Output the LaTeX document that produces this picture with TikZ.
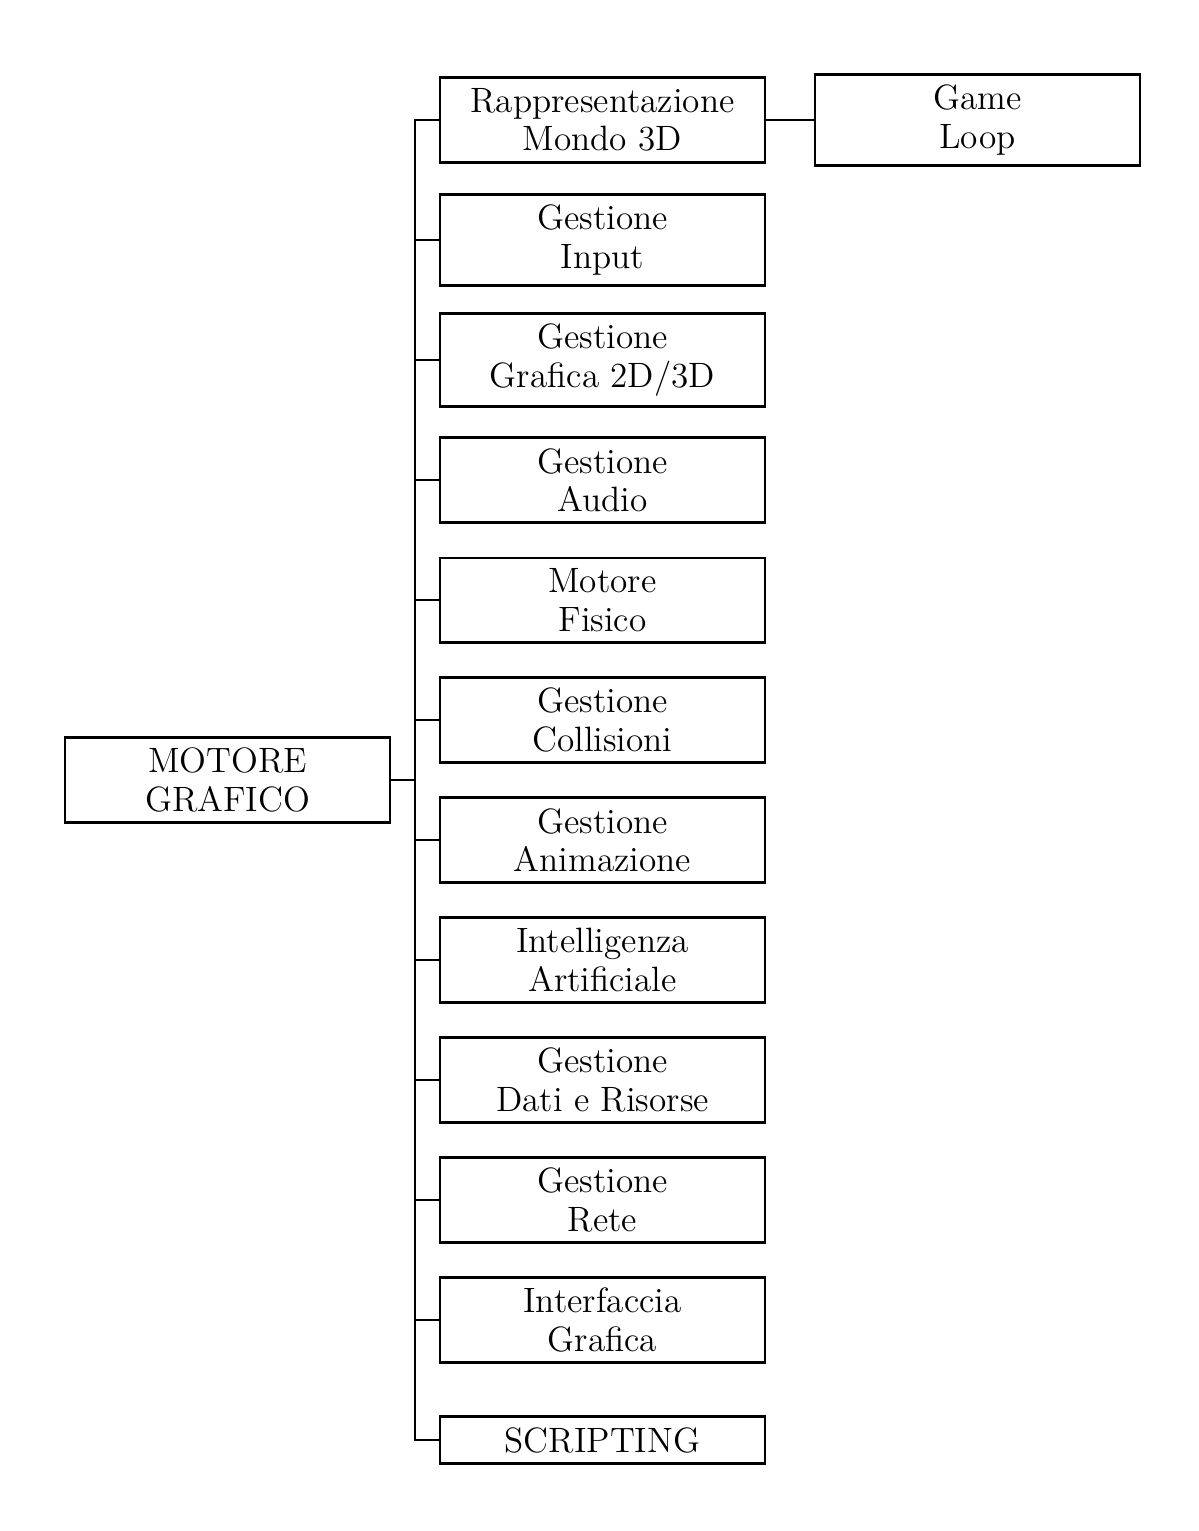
\documentclass[tikz,border=0pt]{standalone}
\begin{document}
\begin{tikzpicture}[x=0.3125pt,y=-0.3125pt,
  box/.style={draw,line width=0.9pt,align=center,minimum width=101.56pt,inner sep=3.33pt,font=\fontsize{11}{12}\selectfont},
  conn/.style={line width=0.9pt}]
\useasboundingbox (0,0) rectangle (1198,1531);
\node[box] (mg) at (227.5,780) {MOTORE\\GRAFICO};
\node[box] (c1) at (602.5,120) {Rappresentazione\\Mondo 3D};
\node[box] (c2) at (602.5,240) {Gestione\\Input};
\node[box] (c3) at (602.5,360) {Gestione\\Grafica 2D/3D};
\node[box] (c4) at (602.5,480) {Gestione\\Audio};
\node[box] (c5) at (602.5,600) {Motore\\Fisico};
\node[box] (c6) at (602.5,720) {Gestione\\Collisioni};
\node[box] (c7) at (602.5,840) {Gestione\\Animazione};
\node[box] (c8) at (602.5,960) {Intelligenza\\Artificiale};
\node[box] (c9) at (602.5,1080) {Gestione\\Dati e Risorse};
\node[box] (c10) at (602.5,1200) {Gestione\\Rete};
\node[box] (c11) at (602.5,1320) {Interfaccia\\Grafica};
\node[box] (c12) at (602.5,1440) {SCRIPTING};
\node[box] (gl) at (977.5,120) {Game\\Loop};
\coordinate (j) at (415,780);
\draw[conn] (mg.east) -- (j);
\foreach \c in {c1,c2,c3,c4,c5,c6,c7,c8,c9,c10,c11,c12}
  \draw[conn] (j) |- (\c.west);
\draw[conn] (c1.east) -- (gl.west);
\end{tikzpicture}
\end{document}
